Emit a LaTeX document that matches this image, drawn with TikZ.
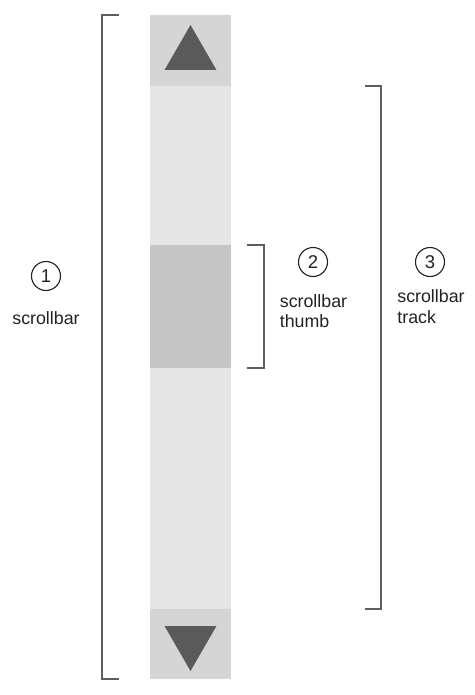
\documentclass[tikz,border=0pt]{standalone}
\usepackage{fontspec}
\setmainfont{Liberation Sans}
\usetikzlibrary{shapes.geometric}
\definecolor{btngrey}{HTML}{D5D5D5}
\definecolor{trackgrey}{HTML}{E6E6E6}
\definecolor{thumbgrey}{HTML}{C6C6C6}
\definecolor{arrowgrey}{HTML}{5A5A5A}
\definecolor{linegrey}{HTML}{5E5E5E}
\definecolor{textgrey}{HTML}{222222}
\tikzset{
  part/.style={rectangle, inner sep=0pt, minimum width=81pt},
  tri/.style={regular polygon, regular polygon sides=3, minimum size=60pt,
    inner sep=0pt, fill=arrowgrey},
  bracket/.style={draw=linegrey, line width=1.5pt},
  num/.style={circle, draw=textgrey, line width=1.1pt, minimum size=29pt,
    inner sep=0pt, text=textgrey, font=\fontsize{18.5}{20}\selectfont},
  caption/.style={align=left, text=textgrey, inner sep=0pt,
    font=\fontsize{17.8}{20.5}\selectfont}
}
\begin{document}
\begin{tikzpicture}[x=1pt,y=-1pt]
  \useasboundingbox (0,0) rectangle (474,695);
  % scrollbar parts
  \node[part, fill=trackgrey, minimum height=523pt] (track) at (190.5,347.5) {};
  \node[part, fill=btngrey, minimum height=71pt] (btnup) at (190.5,50.5) {};
  \node[part, fill=btngrey, minimum height=70pt] (btndown) at (190.5,644) {};
  \node[part, fill=thumbgrey, minimum height=123pt] (thumb) at (190.5,306.5) {};
  \node[tri] (arrowup) at (190.5,55) {};
  \node[tri, shape border rotate=180] (arrowdown) at (190.5,641) {};
  % brackets
  \draw[bracket] ([xshift=-31pt]btnup.north west) -- ([xshift=-48pt]btnup.north west)
    |- ([xshift=-31pt]btndown.south west);
  \draw[bracket] ([xshift=16pt]thumb.north east) -- ([xshift=33pt]thumb.north east)
    |- ([xshift=16pt]thumb.south east);
  \draw[bracket] ([xshift=134pt]track.north east) -- ([xshift=150pt]track.north east)
    |- ([xshift=134pt]track.south east);
  % labels
  \node[num] (n1) at (46,276) {1};
  \node[caption] (l1) at (46,318) {scrollbar};
  \node[num] (n2) at (313,262) {2};
  \node[caption] (l2) at (313.5,311) {scrollbar\\thumb};
  \node[num] (n3) at (430,262) {3};
  \node[caption] (l3) at (431,306.5) {scrollbar\\track};
\end{tikzpicture}
\end{document}
